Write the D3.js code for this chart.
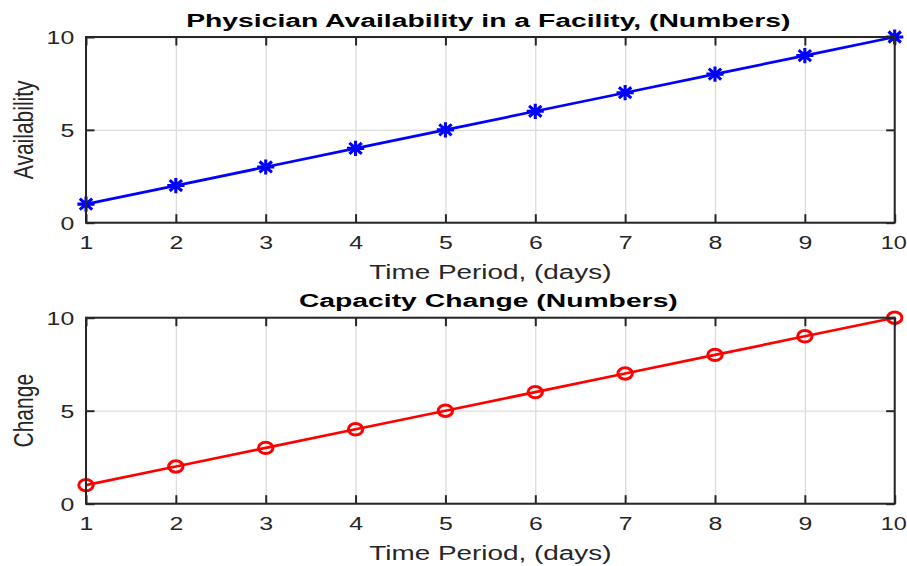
<!DOCTYPE html>
<html><head><meta charset="utf-8">
<script src="https://cdn.jsdelivr.net/npm/d3@7"></script>
<style>
html,body{margin:0;padding:0;background:#fff;}
svg{display:block;}
text{font-family:"Liberation Sans",Arial,Helvetica,sans-serif;fill:#262626;}
</style></head>
<body>
<svg id="chart" width="907" height="566"></svg>
<script>
// ---- data ----
const days = [1, 2, 3, 4, 5, 6, 7, 8, 9, 10];
const availability = [1, 2, 3, 4, 5, 6, 7, 8, 9, 10];
const change = [1, 2, 3, 4, 5, 6, 7, 8, 9, 10];
const xTicks = [1, 2, 3, 4, 5, 6, 7, 8, 9, 10];
const yTicks = [0, 5, 10];
const titles = ["Physician Availability in a Facility, (Numbers)", "Capacity Change (Numbers)"];
const yLabels = ["Availability", "Change"];
const xLabel = "Time Period, (days)";

// ---- layout ----
const svg = d3.select("#chart");
const left = 86, right = 894.7;
const panels = [
  {top: 37, bottom: 222.7, values: availability, color: "#0000ff", marker: "star", title: titles[0], ylab: yLabels[0]},
  {top: 317.7, bottom: 503.7, values: change, color: "#ff0000", marker: "circle", title: titles[1], ylab: yLabels[1]}
];
const SX = 1.42; // horizontal stretch of the original figure
const axisColor = "#262626";
const tickLen = 8.5;

const x = d3.scaleLinear().domain([1, 10]).range([left, right]);

panels.forEach(p => {
  const y = d3.scaleLinear().domain([0, 10]).range([p.bottom, p.top]);
  const h = p.bottom - p.top;
  const g = svg.append("g");

  // grid
  const gx = g.append("g").attr("transform", `translate(0,${p.bottom})`)
    .call(d3.axisBottom(x).tickValues(xTicks).tickSize(-h).tickFormat(""));
  gx.select(".domain").remove();
  gx.selectAll("line").attr("stroke", "#dcdcdc").attr("stroke-width", 1.3);
  const gy = g.append("g").attr("transform", `translate(${left},0)`)
    .call(d3.axisLeft(y).tickValues(yTicks).tickSize(-(right - left)).tickFormat(""));
  gy.select(".domain").remove();
  gy.selectAll("line").attr("stroke", "#dcdcdc").attr("stroke-width", 1.3);

  // data line
  const line = d3.line().x((d, i) => x(days[i])).y(d => y(d));
  g.append("path").datum(p.values)
    .attr("d", line).attr("fill", "none")
    .attr("stroke", p.color).attr("stroke-width", 2.7).attr("stroke-linejoin", "round");

  // markers
  const mk = g.append("g");
  p.values.forEach((v, i) => {
    const cx = x(days[i]), cy = y(v);
    if (p.marker === "star") {
      const rx = 8.6, ry = 7.6, dx = rx * 0.72, dy = ry * 0.72;
      const d = `M${cx - rx},${cy}L${cx + rx},${cy}M${cx},${cy - ry}L${cx},${cy + ry}` +
        `M${cx - dx},${cy - dy}L${cx + dx},${cy + dy}M${cx - dx},${cy + dy}L${cx + dx},${cy - dy}`;
      mk.append("path").attr("d", d).attr("stroke", p.color).attr("stroke-width", 3.1).attr("fill", "none");
    } else {
      mk.append("ellipse").attr("cx", cx).attr("cy", cy).attr("rx", 7.2).attr("ry", 5.7)
        .attr("fill", "none").attr("stroke", p.color).attr("stroke-width", 3);
    }
  });

  // axes with inward ticks
  const fs = 17.5;
  const ab = g.append("g").attr("transform", `translate(0,${p.bottom})`)
    .call(d3.axisBottom(x).tickValues(xTicks).tickSizeInner(-tickLen).tickSizeOuter(0));
  ab.selectAll("text").attr("y", 26.3).attr("dy", 0)
    .attr("transform", (d, i, n) => i === n.length - 1 ? `translate(-1.5,0) scale(${SX - 0.08},1)` : `scale(${SX},1)`)
    .style("font-size", fs + "px").attr("fill", axisColor);
  const at = g.append("g").attr("transform", `translate(0,${p.top})`)
    .call(d3.axisTop(x).tickValues(xTicks).tickSizeInner(-tickLen).tickSizeOuter(0).tickFormat(""));
  const al = g.append("g").attr("transform", `translate(${left},0)`)
    .call(d3.axisLeft(y).tickValues(yTicks).tickSizeInner(-tickLen).tickSizeOuter(0));
  al.selectAll("text").attr("x", -11.8 / SX).attr("dy", 0).attr("y", 6.4)
    .attr("transform", `scale(${SX},1)`).style("font-size", fs + "px").attr("fill", axisColor);
  const ar = g.append("g").attr("transform", `translate(${right},0)`)
    .call(d3.axisRight(y).tickValues(yTicks).tickSizeInner(-tickLen).tickSizeOuter(0).tickFormat(""));
  [ab, at, al, ar].forEach(a => {
    a.select(".domain").remove();
    a.selectAll("line").attr("stroke", axisColor).attr("stroke-width", 2);
    a.attr("font-family", null).attr("font-size", null);
  });

  // box
  g.append("rect").attr("x", left).attr("y", p.top).attr("width", right - left).attr("height", h)
    .attr("fill", "none").attr("stroke", axisColor).attr("stroke-width", 2);

  const cxm = (left + right) / 2;
  // title
  g.append("text").attr("transform", `translate(${cxm - 2},${p.top - 10.3}) scale(1.49,1)`)
    .attr("text-anchor", "middle").style("font-size", "19px").style("font-weight", "bold")
    .style("fill", "#000").text(p.title);
  // x label
  g.append("text").attr("transform", `translate(${cxm},${p.bottom + 56.3}) scale(1.43,1)`)
    .attr("text-anchor", "middle").style("font-size", "19.5px").text(xLabel);
  // y label
  g.append("text").attr("transform", `translate(32.5,${(p.top + p.bottom) / 2}) scale(1.35,1) rotate(-90)`)
    .attr("text-anchor", "middle").style("font-size", "21px").text(p.ylab);
});
</script>
</body></html>
